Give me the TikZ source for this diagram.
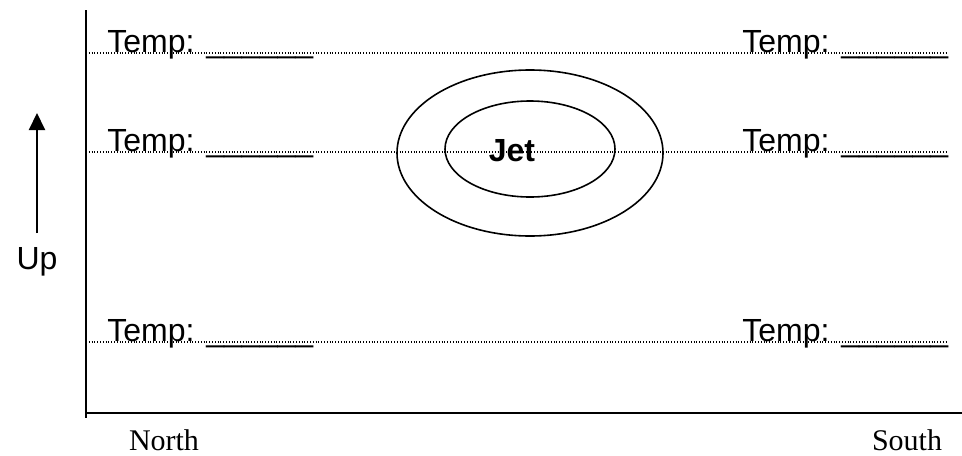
\documentclass[tikz,border=0pt]{standalone}
\usepackage{fontspec}
\setmainfont{Liberation Sans}
\newfontfamily\timesfont{Liberation Serif}
\usetikzlibrary{positioning,calc,arrows.meta,shapes.geometric}

\begin{document}
\begin{tikzpicture}[
  x=0.5pt, y=-0.5pt,
  templabel/.style={anchor=base west, inner sep=0pt, font=\fontsize{16}{18}\selectfont},
  level/.style={line width=0.6pt, dash pattern=on 0.5pt off 0.9pt},
  ring/.style={ellipse, draw, line width=0.8pt, inner sep=0pt}
]
\useasboundingbox (0,0) rectangle (962,455);
% axes
\coordinate (top) at (86,10);
\coordinate (origin) at (86,413);
\coordinate (far) at (962,413);
\draw[line width=1pt] (top) -- (86,418);
\draw[line width=1pt] (origin) -- (far);
% levels
\foreach \name/\y in {high/53, mid/152, low/342} {
  \coordinate (\name w) at (86,\y);
  \coordinate (\name e) at (948,\y);
  \draw[level] (\name w) -- (\name e);
  \node[templabel] (\name left) at (107,\y-1) {Temp: \_\_\_\_\_\_};
  \node[templabel] (\name right) at (742,\y-1) {Temp: \_\_\_\_\_\_};
}
% jet
\node[ring, minimum width=133, minimum height=83] (outer) at (530,153) {};
\node[ring, minimum width=85, minimum height=48] (inner) at (530,149) {};
\node[font=\fontsize{16}{18}\selectfont\bfseries, inner sep=0pt] (jet) at (512,151) {Jet};
% up arrow
\node[font=\fontsize{16}{18}\selectfont, inner sep=0pt] (up) at (37,262) {Up};
\coordinate (upfoot) at (37,233);
\coordinate (uptip) at (37,113);
\draw[-{Triangle[length=8.5pt, width=8pt]}, line width=1pt] (upfoot) -- (uptip);
% directions
\node[font=\timesfont\fontsize{15}{17}\selectfont, inner sep=0pt] (north) at (164,440) {North};
\node[font=\timesfont\fontsize{15}{17}\selectfont, inner sep=0pt] (south) at (907,440) {South};
\end{tikzpicture}
\end{document}
